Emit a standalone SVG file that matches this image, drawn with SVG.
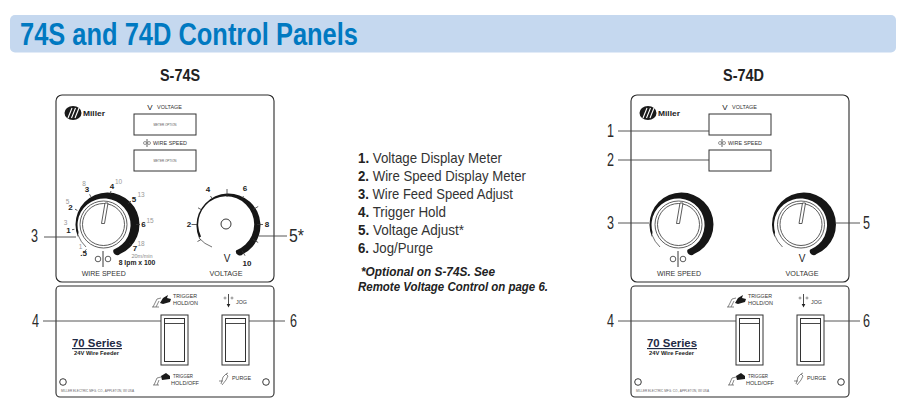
<svg xmlns="http://www.w3.org/2000/svg" xmlns:xlink="http://www.w3.org/1999/xlink" width="904" height="420" viewBox="0 0 904 420">
<style>
text{font-family:"Liberation Sans",Arial,sans-serif;fill:#222}
.panel{fill:#fff;stroke:#2a2a2a;stroke-width:1.1}
.box{fill:#fff;stroke:#333;stroke-width:1}
.lead{stroke:#444;stroke-width:.9;fill:none}
.call{font-size:18px;fill:#2b2b2b}
.head{font-size:16.5px;font-weight:700}
.li{font-size:15px;fill:#333}
.li tspan{font-weight:700;fill:#222}
.note{font-size:12.500px;font-weight:700;font-style:italic}
.sm{font-size:5px;fill:#333}
.mid{font-size:7px;fill:#333}
.mo{font-size:3px;fill:#555}
.n{font-size:8px;font-weight:700;fill:#222;text-anchor:middle}
.g{font-size:6.5px;fill:#999;text-anchor:middle}
.tk{stroke:#333;stroke-width:.8;fill:none}
.thin{stroke:#555;stroke-width:.7;fill:none}
.ring{fill:#fff;stroke:#333;stroke-width:.8}
</style>
<defs>
<g id="knob">
<circle class="ring" cx="103.5" cy="224.5" r="23.5"/>
<circle class="ring" cx="103.5" cy="224.5" r="21"/>
<polygon points="101.5,223.5 104.5,223.5 108,203 105,203" fill="#fff" stroke="#333" stroke-width=".8"/>
</g>
<path id="sweep" d="M78,237 A32 32 0 1 1 120,254 A4 4 0 0 1 113.5,249.7 A26.5 26.5 0 1 0 78.5,232 Z" fill="#161616"/>
<path id="tail" d="M78,235 A32 32 0 0 0 86,247" fill="none" stroke="#333" stroke-width=".7"/>
<g id="wiresym">
<line x1="103" y1="251" x2="103" y2="267" stroke="#222" stroke-width=".9"/>
<circle cx="98" cy="259" r="2.8" fill="#fff" stroke="#333" stroke-width=".8"/>
<circle cx="108" cy="259" r="2.8" fill="#fff" stroke="#333" stroke-width=".8"/>
</g>
<g id="logo">
<ellipse cx="73" cy="113" rx="8.5" ry="7" fill="#1a1a1a"/>
<path d="M68,118 L72,108 M71.5,118 L75.5,108 M75,118 L79,108" stroke="#fff" stroke-width="1.1"/>
</g>
<g id="smallsym">
<line x1="147" y1="139" x2="147" y2="147" stroke="#222" stroke-width=".7"/>
<circle cx="145" cy="143" r="1.5" fill="#fff" stroke="#333" stroke-width=".5"/>
<circle cx="149" cy="143" r="1.5" fill="#fff" stroke="#333" stroke-width=".5"/>
</g>
<g id="switch">
<rect x="0" y="0" width="27" height="50" class="box"/>
<rect x="3.5" y="3.5" width="20" height="43" class="box"/>
<line x1="3.5" y1="8.5" x2="23.5" y2="8.5" stroke="#333" stroke-width=".9"/>
</g>
<g id="handon">
<path d="M160,303 L163,298 L168,295 L167,298 L171,299 L170,302 L163,304 Z" fill="#1a1a1a"/>
<path d="M153,307 L157,299 L161,298 M156,307 L159,301 M152,307 H159" class="thin"/>
</g>
<g id="handoff">
<path d="M161,376 L166,373 L170,376 L170,379 L162,380 Z" fill="#1a1a1a"/>
<path d="M154,385 L157,378 L161,377 M157,385 L159,380 M153,385 H159" class="thin"/>
</g>
<g id="purgeicon">
<path d="M221,384 L223,377 L226,374 L228,373 M222,385 L226,380 L228,376 L226,374 M219,381 L223,381" class="thin"/>
</g>
<g id="jogsym">
<line x1="228.5" y1="294" x2="228.5" y2="305" stroke="#222" stroke-width=".8"/>
<path d="M226.7,304 L230.3,304 L228.5,307.5 Z" fill="#222"/>
<circle cx="225" cy="298" r="1" fill="none" stroke="#333" stroke-width=".5"/>
<circle cx="232" cy="298" r="1" fill="none" stroke="#333" stroke-width=".5"/>
</g>
</defs>

<rect width="904" height="420" fill="#fff"/>

<g id="banner">
<rect x="10" y="15" width="886" height="37.500" rx="5" fill="#c5d8ef"/>
<text x="20" y="45" font-size="30.500" font-weight="700" style="fill:#0079c1" textLength="338" lengthAdjust="spacingAndGlyphs">74S and 74D Control Panels</text>
</g>

<g id="legend">
<text class="li" x="358" y="163" textLength="144" lengthAdjust="spacingAndGlyphs"><tspan>1.</tspan> Voltage Display Meter</text>
<text class="li" x="358" y="181" textLength="168" lengthAdjust="spacingAndGlyphs"><tspan>2.</tspan> Wire Speed Display Meter</text>
<text class="li" x="358" y="199" textLength="155" lengthAdjust="spacingAndGlyphs"><tspan>3.</tspan> Wire Feed Speed Adjust</text>
<text class="li" x="358" y="217" textLength="88" lengthAdjust="spacingAndGlyphs"><tspan>4.</tspan> Trigger Hold</text>
<text class="li" x="358" y="235" textLength="106" lengthAdjust="spacingAndGlyphs"><tspan>5.</tspan> Voltage Adjust*</text>
<text class="li" x="358" y="253" textLength="75" lengthAdjust="spacingAndGlyphs"><tspan>6.</tspan> Jog/Purge</text>
<text class="note" x="361" y="276" textLength="134" lengthAdjust="spacingAndGlyphs">*Optional on S-74S. See</text>
<text class="note" x="358" y="291" textLength="190" lengthAdjust="spacingAndGlyphs">Remote Voltage Control on page 6.</text>
</g>

<g id="s74s-title"><text class="head" x="160" y="81" textLength="40" lengthAdjust="spacingAndGlyphs">S-74S</text></g>
<g id="s74d-title"><text class="head" x="723" y="81" textLength="41" lengthAdjust="spacingAndGlyphs">S-74D</text></g>

<g id="s74s-upper">
<rect class="panel" x="56" y="95" width="218" height="187" rx="6"/>
<use xlink:href="#logo" href="#logo"/>
<text x="83" y="116" font-size="7.500" font-weight="700" textLength="22" lengthAdjust="spacingAndGlyphs">Miller</text>
<text x="150" y="110" font-size="8" text-anchor="middle">V</text>
<text class="sm" x="157" y="109" textLength="25" lengthAdjust="spacingAndGlyphs">VOLTAGE</text>
<rect class="box" x="134" y="114" width="62" height="21"/>
<text class="mo" x="165" y="125.500" text-anchor="middle">METER OPTION</text>
<use xlink:href="#smallsym" href="#smallsym"/>
<text class="sm" x="153" y="145" textLength="34" lengthAdjust="spacingAndGlyphs">WIRE SPEED</text>
<rect class="box" x="134" y="150" width="62" height="21"/>
<text class="mo" x="165" y="161.500" text-anchor="middle">METER OPTION</text>

<g id="s74s-wire-dial">
<use xlink:href="#sweep" href="#sweep"/>
<use xlink:href="#tail" href="#tail"/>
<use xlink:href="#knob" href="#knob"/>
<path class="tk" d="M74.400,229.300L72,229.700M77.400,210.400L75,209.200M90.900,196.900L89.600,194.300M110.400,194L110.900,191M128,203.800L131,201M136,224.500L140,224.500M129.400,243.600L132,245.500M86.400,249.300L85,251"/>
<text class="n" x="68.500" y="233">1</text>
<text class="n" x="70.500" y="210">2</text>
<text class="n" x="87" y="192">3</text>
<text class="n" x="112" y="189">4</text>
<text class="n" x="134" y="202">5</text>
<text class="n" x="143.500" y="227">6</text>
<text class="n" x="135" y="251">7</text>
<text class="n" x="83.500" y="256">.5</text>
<text class="g" x="65.500" y="225">3</text>
<text class="g" x="67.500" y="204">5</text>
<text class="g" x="84" y="186">8</text>
<text class="g" x="118.500" y="184">10</text>
<text class="g" x="141" y="197">13</text>
<text class="g" x="150" y="223">15</text>
<text class="g" x="141" y="246">18</text>
<text class="g" x="80.500" y="249">1</text>
<text x="142" y="258" font-size="5.500" text-anchor="middle" style="fill:#888">20m/min</text>
<text x="137" y="265" font-size="6.800" font-weight="700" text-anchor="middle">8 Ipm x 100</text>
<use xlink:href="#wiresym" href="#wiresym"/>
<text class="mid" x="103.700" y="276" text-anchor="middle" textLength="44" lengthAdjust="spacingAndGlyphs">WIRE SPEED</text>
</g>

<g id="s74s-voltage-dial">
<path d="M199,238 A32 32 0 1 1 243,254 A4 4 0 0 1 236,250.500 A28 28 0 1 0 201,236.500 Z" fill="#161616"/>
<path d="M199,238 A32 32 0 0 0 212,247" fill="none" stroke="#333" stroke-width=".7"/>
<circle cx="226" cy="224" r="5" fill="#fff" stroke="#222" stroke-width=".9"/>
<path class="tk" d="M201,239.500L197.500,241.500M197,224.500L191.500,224.500M201,209.500L198,207.800M212,198.500L210.500,196M227,197L227,189M242,198.500L243.500,196M253,209.500L258.200,206.500M257,224.500L263,224.500M253,239.500L258.200,242.500M242,250.500L245,255.700"/>
<text class="n" x="189" y="227">2</text>
<text class="n" x="208" y="192">4</text>
<text class="n" x="245" y="191">6</text>
<text class="n" x="267" y="227">8</text>
<text class="n" x="247" y="266">10</text>
<text x="227" y="262" font-size="10" text-anchor="middle">V</text>
<text class="mid" x="226" y="276" text-anchor="middle" textLength="33" lengthAdjust="spacingAndGlyphs">VOLTAGE</text>
</g>
</g>

<g id="s74s-lower">
<rect class="panel" x="56" y="286" width="218" height="111" rx="4"/>
<use xlink:href="#handon" href="#handon"/>
<text class="sm" x="173" y="298" textLength="24" lengthAdjust="spacingAndGlyphs">TRIGGER</text>
<text class="sm" x="173" y="305" textLength="25" lengthAdjust="spacingAndGlyphs">HOLD/ON</text>
<use xlink:href="#jogsym" href="#jogsym"/>
<text class="sm" x="236" y="304" textLength="11" lengthAdjust="spacingAndGlyphs">JOG</text>
<use xlink:href="#switch" href="#switch" x="161" y="315"/>
<use xlink:href="#switch" href="#switch" x="222" y="315"/>
<use xlink:href="#handoff" href="#handoff"/>
<text class="sm" x="173" y="378" textLength="20" lengthAdjust="spacingAndGlyphs">TRIGGER</text>
<text class="sm" x="171" y="385" textLength="28" lengthAdjust="spacingAndGlyphs">HOLD/OFF</text>
<use xlink:href="#purgeicon" href="#purgeicon"/>
<text class="sm" x="232" y="380" textLength="19" lengthAdjust="spacingAndGlyphs">PURGE</text>
<text x="72" y="347" font-size="11.500" font-weight="700" text-decoration="underline" textLength="50" lengthAdjust="spacingAndGlyphs" style="fill:#1f2a44">70 Series</text>
<text x="74" y="355" font-size="4.800" font-weight="700" textLength="45" lengthAdjust="spacingAndGlyphs">24V Wire Feeder</text>
<circle cx="63" cy="382" r="3.300" fill="#fff" stroke="#222" stroke-width=".9"/>
<circle cx="266" cy="382" r="3.300" fill="#fff" stroke="#222" stroke-width=".9"/>
<text x="61" y="392" font-size="3" textLength="73" lengthAdjust="spacingAndGlyphs" style="fill:#666">MILLER ELECTRIC MFG. CO., APPLETON, WI USA</text>
</g>

<g id="s74d-upper">
<rect class="panel" x="631" y="95" width="218" height="187" rx="6"/>
<use xlink:href="#logo" href="#logo" x="575"/>
<text x="658" y="116" font-size="7.500" font-weight="700" textLength="22" lengthAdjust="spacingAndGlyphs">Miller</text>
<text x="725" y="110" font-size="8" text-anchor="middle">V</text>
<text class="sm" x="732" y="109" textLength="25" lengthAdjust="spacingAndGlyphs">VOLTAGE</text>
<rect class="box" x="709" y="114" width="62" height="21"/>
<use xlink:href="#smallsym" href="#smallsym" x="575"/>
<text class="sm" x="728" y="145" textLength="34" lengthAdjust="spacingAndGlyphs">WIRE SPEED</text>
<rect class="box" x="709" y="150" width="62" height="21"/>
<g id="s74d-wire-dial">
<use xlink:href="#sweep" href="#sweep" x="574"/>
<use xlink:href="#tail" href="#tail" x="574"/>
<use xlink:href="#knob" href="#knob" x="575"/>
<use xlink:href="#wiresym" href="#wiresym" x="575"/>
<text class="mid" x="679" y="276" text-anchor="middle" textLength="44" lengthAdjust="spacingAndGlyphs">WIRE SPEED</text>
</g>
<g id="s74d-voltage-dial">
<use xlink:href="#sweep" href="#sweep" x="696.500"/>
<use xlink:href="#tail" href="#tail" x="696.500"/>
<use xlink:href="#knob" href="#knob" x="697.500"/>
<text x="802" y="262" font-size="10" text-anchor="middle">V</text>
<text class="mid" x="802" y="276" text-anchor="middle" textLength="33" lengthAdjust="spacingAndGlyphs">VOLTAGE</text>
</g>
</g>

<g id="s74d-lower">
<rect class="panel" x="631" y="286" width="218" height="111" rx="4"/>
<use xlink:href="#handon" href="#handon" x="575"/>
<text class="sm" x="748" y="298" textLength="24" lengthAdjust="spacingAndGlyphs">TRIGGER</text>
<text class="sm" x="748" y="305" textLength="25" lengthAdjust="spacingAndGlyphs">HOLD/ON</text>
<use xlink:href="#jogsym" href="#jogsym" x="575"/>
<text class="sm" x="811" y="304" textLength="11" lengthAdjust="spacingAndGlyphs">JOG</text>
<use xlink:href="#switch" href="#switch" x="736" y="315"/>
<use xlink:href="#switch" href="#switch" x="797" y="315"/>
<use xlink:href="#handoff" href="#handoff" x="575"/>
<text class="sm" x="748" y="378" textLength="20" lengthAdjust="spacingAndGlyphs">TRIGGER</text>
<text class="sm" x="746" y="385" textLength="28" lengthAdjust="spacingAndGlyphs">HOLD/OFF</text>
<use xlink:href="#purgeicon" href="#purgeicon" x="575"/>
<text class="sm" x="807" y="380" textLength="19" lengthAdjust="spacingAndGlyphs">PURGE</text>
<text x="647" y="347" font-size="11.500" font-weight="700" text-decoration="underline" textLength="50" lengthAdjust="spacingAndGlyphs" style="fill:#1f2a44">70 Series</text>
<text x="649" y="355" font-size="4.800" font-weight="700" textLength="45" lengthAdjust="spacingAndGlyphs">24V Wire Feeder</text>
<circle cx="638" cy="382" r="3.300" fill="#fff" stroke="#222" stroke-width=".9"/>
<circle cx="841" cy="382" r="3.300" fill="#fff" stroke="#222" stroke-width=".9"/>
<text x="636" y="392" font-size="3" textLength="73" lengthAdjust="spacingAndGlyphs" style="fill:#666">MILLER ELECTRIC MFG. CO., APPLETON, WI USA</text>
</g>

<g id="connectors">
<path class="lead" d="M44,237H76M259,236H287M43,321H161M249,321H285"/>
<path class="lead" d="M618,131H709M618,160H709M618,223H649M835,223H860M618,321H736M824,321H860"/>
</g>

<g id="callouts">
<text class="call" x="31" y="242" textLength="7" lengthAdjust="spacingAndGlyphs">3</text>
<text class="call" x="289" y="242" textLength="15" lengthAdjust="spacingAndGlyphs">5*</text>
<text class="call" x="32" y="327" textLength="7" lengthAdjust="spacingAndGlyphs">4</text>
<text class="call" x="290" y="327" textLength="7" lengthAdjust="spacingAndGlyphs">6</text>
<text class="call" x="607" y="137" textLength="7" lengthAdjust="spacingAndGlyphs">1</text>
<text class="call" x="607" y="166" textLength="7" lengthAdjust="spacingAndGlyphs">2</text>
<text class="call" x="607" y="229" textLength="7" lengthAdjust="spacingAndGlyphs">3</text>
<text class="call" x="863" y="229" textLength="7" lengthAdjust="spacingAndGlyphs">5</text>
<text class="call" x="607" y="327" textLength="7" lengthAdjust="spacingAndGlyphs">4</text>
<text class="call" x="863" y="327" textLength="7" lengthAdjust="spacingAndGlyphs">6</text>
</g>
</svg>
